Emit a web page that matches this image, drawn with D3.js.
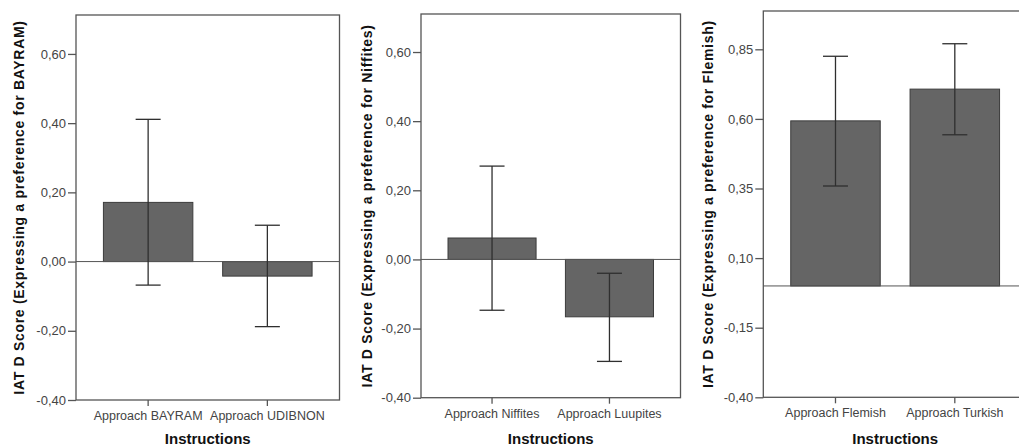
<!DOCTYPE html>
<html>
<head>
<meta charset="utf-8">
<script src="https://cdn.jsdelivr.net/npm/d3@7"></script>
<style>
  body { margin: 0; background: #fff; }
  svg { display: block; font-family: "Liberation Sans", Arial, sans-serif; }
  .axis path, .axis line { stroke: #555; stroke-width: 1.3; }
  .axis text { fill: #444; font-size: 13px; }
  .cat-axis text { font-size: 12.5px; }
</style>
</head>
<body>
<div id="chart"></div>
<script>
// ---- data ----
const bayramCats = ["Approach BAYRAM", "Approach UDIBNON"];
const bayramMeans = [0.171, -0.042];
const bayramLow = [-0.068, -0.188];
const bayramHigh = [0.411, 0.105];
const bayramTicks = [-0.40, -0.20, 0.00, 0.20, 0.40, 0.60];

const niffitesCats = ["Approach Niffites", "Approach Luupites"];
const niffitesMeans = [0.062, -0.166];
const niffitesLow = [-0.147, -0.295];
const niffitesHigh = [0.270, -0.040];
const niffitesTicks = [-0.40, -0.20, 0.00, 0.20, 0.40, 0.60];

const flemishCats = ["Approach Flemish", "Approach Turkish"];
const flemishMeans = [0.593, 0.707];
const flemishLow = [0.359, 0.543];
const flemishHigh = [0.825, 0.870];
const flemishTicks = [-0.40, -0.15, 0.10, 0.35, 0.60, 0.85];

const xTitle = "Instructions";

// ---- panel layout ----
let panels = [
    { cats: bayramCats, means: bayramMeans, low: bayramLow, high: bayramHigh, ticks: bayramTicks,
      yMax: 0.7125, title: "IAT D Score (Expressing a preference for BAYRAM)",
      left: 76, right: 339.5, top: 15, bottom: 400, titleX: 24 },
    { cats: niffitesCats, means: niffitesMeans, low: niffitesLow, high: niffitesHigh, ticks: niffitesTicks,
      yMax: 0.71, title: "IAT D Score (Expressing a preference for Niffites)",
      left: 421, right: 680.5, top: 14, bottom: 397.7, titleX: 372 },
    { cats: flemishCats, means: flemishMeans, low: flemishLow, high: flemishHigh, ticks: flemishTicks,
      yMax: 0.9876, title: "IAT D Score (Expressing a preference for Flemish)",
      left: 763.3, right: 1027, top: 11, bottom: 397.3, titleX: 713 }
];

let svg = d3.select("#chart").append("svg")
    .attr("width", 1019)
    .attr("height", 448);

// SPSS style: comma decimals, plain hyphen for minus
let fmt = d => d3.format(".2f")(d).replace(".", ",").replace("\u2212", "-");

panels.forEach(p => {
    let g = svg.append("g");

    let x = d3.scaleBand()
        .domain(p.cats)
        .range([p.left, p.right])
        .paddingInner(0.25)
        .paddingOuter(0.23);

    let y = d3.scaleLinear()
        .domain([-0.40, p.yMax])
        .range([p.bottom, p.top]);

    // frame
    g.append("rect")
        .attr("x", p.left)
        .attr("y", p.top)
        .attr("width", p.right - p.left)
        .attr("height", p.bottom - p.top)
        .attr("fill", "none")
        .attr("stroke", "#555")
        .attr("stroke-width", 1.3);

    // bars
    g.selectAll(".bar")
        .data(p.cats)
        .enter()
        .append("rect")
        .attr("class", "bar")
        .attr("x", d => x(d))
        .attr("width", x.bandwidth())
        .attr("y", (d, i) => y(Math.max(0, p.means[i])))
        .attr("height", (d, i) => Math.abs(y(p.means[i]) - y(0)))
        .attr("fill", "#656565")
        .attr("stroke", "#3c3c3c")
        .attr("stroke-width", 1);

    // zero line
    g.append("line")
        .attr("x1", p.left)
        .attr("x2", p.right)
        .attr("y1", y(0))
        .attr("y2", y(0))
        .attr("stroke", "#555")
        .attr("stroke-width", 1);

    // error bars
    let cx = d => x(d) + x.bandwidth() / 2;
    g.selectAll(".err")
        .data(p.cats)
        .enter()
        .append("line")
        .attr("x1", cx).attr("x2", cx)
        .attr("y1", (d, i) => y(p.low[i]))
        .attr("y2", (d, i) => y(p.high[i]))
        .attr("stroke", "#2f2f2f")
        .attr("stroke-width", 1.3);

    ["low", "high"].forEach(k => {
        g.selectAll(".cap-" + k)
            .data(p.cats)
            .enter()
            .append("line")
            .attr("x1", d => cx(d) - 12.5)
            .attr("x2", d => cx(d) + 12.5)
            .attr("y1", (d, i) => y(p[k][i]))
            .attr("y2", (d, i) => y(p[k][i]))
            .attr("stroke", "#2f2f2f")
            .attr("stroke-width", 1.3);
    });

    // y axis
    let yAxis = d3.axisLeft(y)
        .tickValues(p.ticks)
        .tickFormat(fmt)
        .tickSize(8)
        .tickPadding(2);
    g.append("g")
        .attr("class", "axis")
        .attr("transform", "translate(" + p.left + ",0)")
        .call(yAxis)
        .call(a => a.select(".domain").remove());

    // x axis
    let xAxis = d3.axisBottom(x)
        .tickSize(6)
        .tickPadding(5);
    g.append("g")
        .attr("class", "axis cat-axis")
        .attr("transform", "translate(0," + p.bottom + ")")
        .call(xAxis)
        .call(a => a.select(".domain").remove());

    // titles
    g.append("text")
        .attr("x", (x(p.cats[0]) + x(p.cats[1]) + x.bandwidth()) / 2)
        .attr("y", 444)
        .attr("text-anchor", "middle")
        .attr("font-weight", "bold")
        .attr("font-size", "15px")
        .attr("fill", "#111")
        .text(xTitle);

    g.append("text")
        .attr("transform", "translate(" + p.titleX + "," + ((p.top + p.bottom) / 2) + ")rotate(-90)")
        .attr("text-anchor", "middle")
        .attr("font-weight", "bold")
        .attr("font-size", "14px")
        .attr("letter-spacing", "0.7px")
        .attr("fill", "#111")
        .text(p.title);
});
</script>
</body>
</html>
